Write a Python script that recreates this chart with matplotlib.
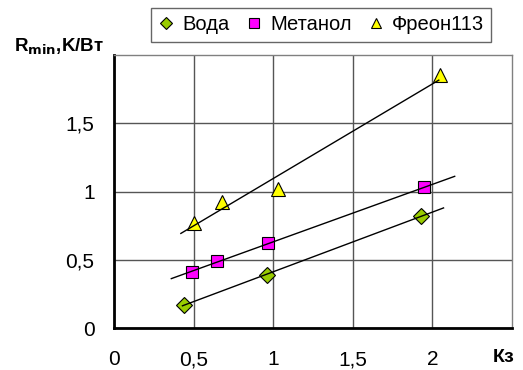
import matplotlib
matplotlib.use("Agg")
import matplotlib.pyplot as plt
import numpy as np
from matplotlib.ticker import FuncFormatter

plt.rcParams['font.family'] = ['Liberation Sans', 'DejaVu Sans']

voda_x = [0.44, 0.96, 1.93]
voda_y = [0.17, 0.39, 0.82]
met_x = [0.49, 0.65, 0.97, 1.95]
met_y = [0.41, 0.49, 0.62, 1.03]
fre_x = [0.50, 0.68, 1.03, 2.05]
fre_y = [0.77, 0.92, 1.02, 1.85]
trend_ranges = [(0.43, 2.07), (0.36, 2.14), (0.42, 2.04)]
labels = ['Вода', 'Метанол', 'Фреон113']

fig = plt.figure(figsize=(5.23, 3.70), dpi=100)
ax = fig.add_axes([114/523, 1-328/370, (512-114)/523, (328-55)/370])

series = [(voda_x, voda_y, 'D', '#99CC00', 8),
          (met_x, met_y, 's', '#FF00FF', 9),
          (fre_x, fre_y, '^', '#FFFF00', 10)]
handles = []
for (xs, ys, m, c, ms), (a, b), lab in zip(series, trend_ranges, labels):
    k, c0 = np.polyfit(xs, ys, 1)
    tx = np.array([a, b])
    ax.plot(tx, k*tx + c0, color='black', lw=1, zorder=4)
    h, = ax.plot(xs, ys, linestyle='none', marker=m, color=c, markersize=ms,
                 markeredgecolor='black', markeredgewidth=0.8, zorder=3, label=lab)
    handles.append(h)

ax.set_xlim(0, 2.5)
ax.set_ylim(0, 2)
ax.set_xticks([0, 0.5, 1, 1.5, 2])
ax.set_yticks([0, 0.5, 1, 1.5])
fmt = FuncFormatter(lambda v, p: ('%g' % v).replace('.', ','))
ax.xaxis.set_major_formatter(fmt)
ax.yaxis.set_major_formatter(fmt)
ax.grid(True, color='#555555', lw=1)
ax.set_axisbelow(True)
ax.tick_params(axis='both', length=0, labelsize=15)
ax.tick_params(axis='x', pad=16)
ax.tick_params(axis='y', pad=14)
for s in ['top', 'right']:
    ax.spines[s].set_color('#808080')
    ax.spines[s].set_linewidth(1)
for s in ['left', 'bottom']:
    ax.spines[s].set_color('black')
    ax.spines[s].set_linewidth(2)

fig.text(14/523, 1-47/370, r'R$_{\mathbf{min}}$,K/Вт', fontsize=13.5, fontweight='bold',
         va='center', ha='left')
fig.text(515/523, 1-357/370, 'Кз', fontsize=14, fontweight='bold', va='center', ha='right')

leg = fig.legend(handles=handles, loc='center', bbox_to_anchor=(321/523, 1-25/370),
                 ncol=3, frameon=True, fancybox=False, edgecolor='#404040', fontsize=14.5,
                 handlelength=0.8, handletextpad=0.4, columnspacing=0.8, borderpad=0.35,
                 markerscale=0.75)
leg.get_frame().set_linewidth(1)

fig.savefig('out.png', dpi=100)
